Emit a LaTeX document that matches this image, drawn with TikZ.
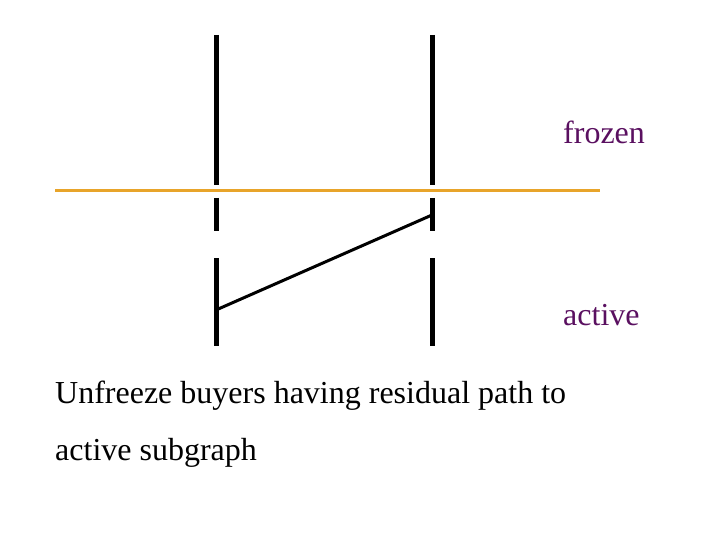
\documentclass[tikz,border=0pt]{standalone}
\usepackage{fontspec}
\setmainfont{Liberation Serif}
\definecolor{lbl}{HTML}{5A1060}
\definecolor{orng}{HTML}{E8A42A}
\begin{document}
\begin{tikzpicture}[x=1pt,y=-1pt,
  bar/.style={line width=5pt,black},
  lab/.style={font=\fontsize{32}{36}\selectfont,inner sep=0pt,anchor=base west}]
\useasboundingbox (0,0) rectangle (720,540);
\foreach \x/\n in {216/a,432/b}{
  \coordinate (\n1) at (\x,35); \coordinate (\n2) at (\x,185);
  \coordinate (\n3) at (\x,198); \coordinate (\n4) at (\x,231);
  \coordinate (\n5) at (\x,258); \coordinate (\n6) at (\x,346);
  \draw[bar] (\n1) -- (\n2); \draw[bar] (\n3) -- (\n4); \draw[bar] (\n5) -- (\n6);
}
\coordinate (ol) at (55,191); \coordinate (or) at (600,191);
\draw[orng,line width=3pt] (ol) -- (or);
\coordinate (d1) at (216,310); \coordinate (d2) at (432,215);
\draw[line width=3pt] (d1) -- (d2);
\node[lab,text=lbl] (fz) at (563,144) {frozen};
\node[lab,text=lbl] (ac) at (563,325) {active};
\node[lab] (t1) at (55,403) {Unfreeze buyers having residual path to};
\node[lab] (t2) at (55,460) {active subgraph};
\end{tikzpicture}
\end{document}
